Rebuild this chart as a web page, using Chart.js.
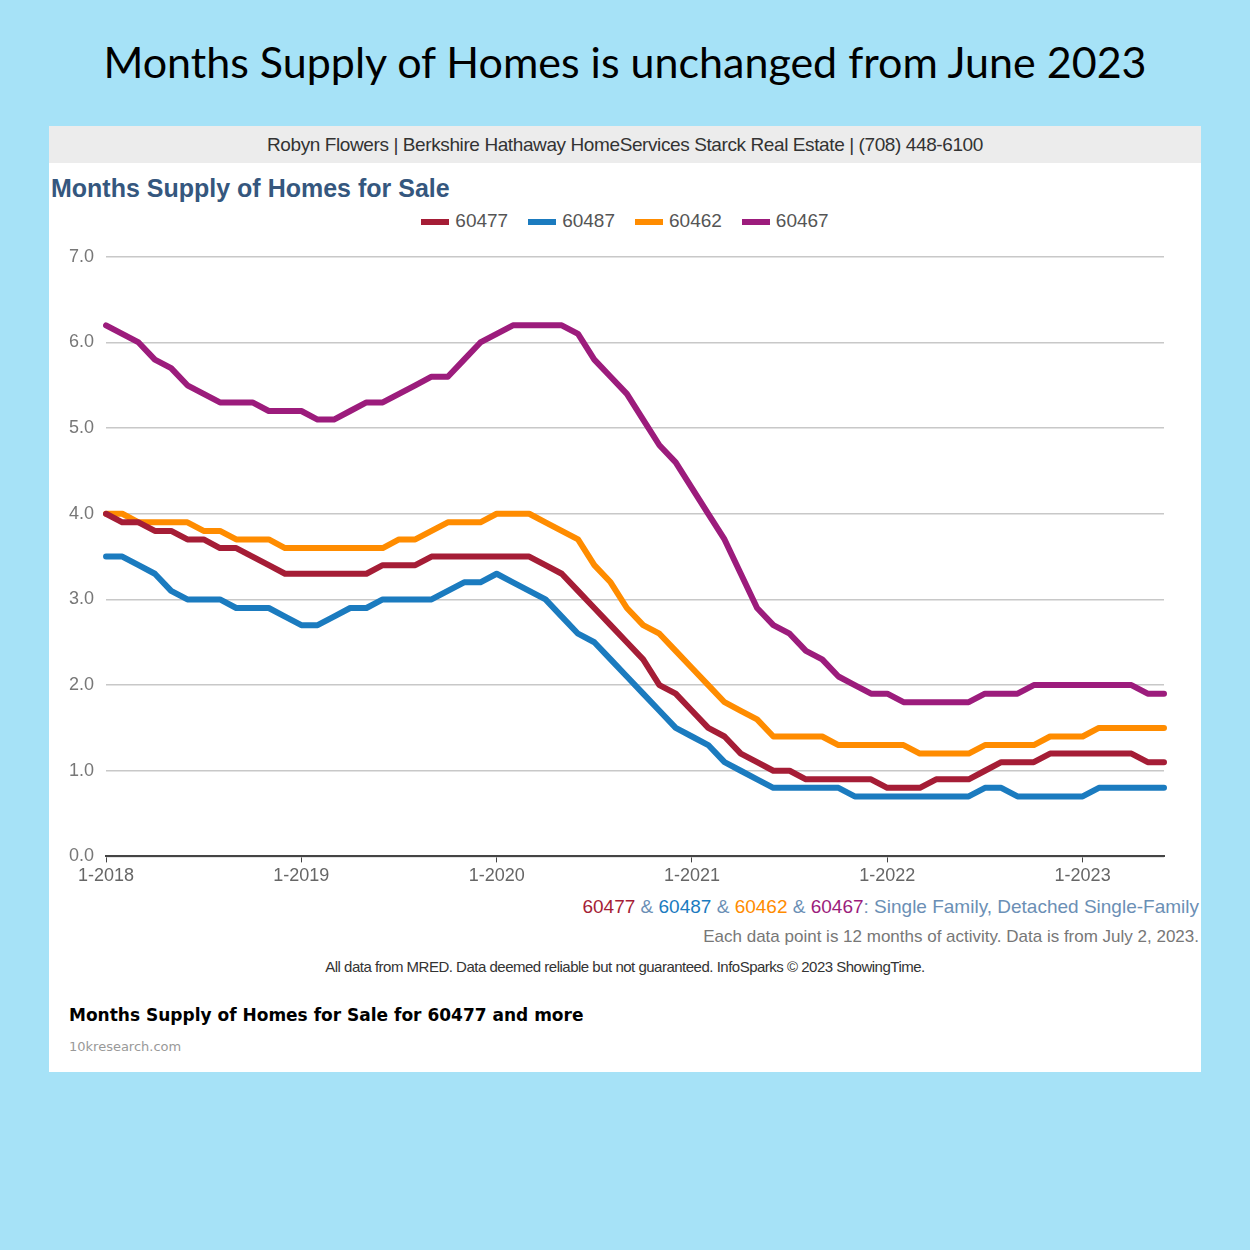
<!DOCTYPE html>
<html><head><meta charset="utf-8">
<script src="https://cdn.jsdelivr.net/npm/chart.js@4"></script>
<style>
body{margin:0;width:1250px;height:1250px;background:#a6e2f7;position:relative;font-family:"Liberation Sans",Arial,sans-serif;overflow:hidden}
#title{position:absolute;top:36px;left:0;width:1250px;text-align:center;font-family:"Lato",sans-serif;font-size:43px;color:#000}
#card{position:absolute;left:49px;top:126px;width:1152px;height:946px;background:#fff}
#hdr{height:37px;background:#ececec;text-align:center;font-size:19px;line-height:38px;color:#333;letter-spacing:-0.4px}
#sub{position:absolute;left:2px;top:48px;font-size:25px;font-weight:bold;color:#35577e}
#leg{position:absolute;top:84px;left:0;width:1152px;text-align:center;font-size:19px;color:#555}
#leg span{margin:0 10px}#leg i{display:inline-block;width:28px;height:6px;vertical-align:middle;margin-right:6px}
#wrap{position:absolute;left:0;top:108px;width:1118px;height:656px}
.r{position:absolute;right:2px;font-size:19px}
#src{position:absolute;top:832px;left:0;width:1152px;text-align:center;font-size:15px;color:#333;letter-spacing:-0.5px}
#cap{position:absolute;left:20px;top:879px;font-family:"DejaVu Sans";font-weight:bold;font-size:17px}
#site{position:absolute;left:20px;top:913px;font-family:"DejaVu Sans";font-size:13px;color:#999}
</style></head><body>
<div id="title">Months Supply of Homes is unchanged from June 2023</div>
<div id="card">
<div id="hdr">Robyn Flowers | Berkshire Hathaway HomeServices Starck Real Estate | (708) 448-6100</div>
<div id="sub">Months Supply of Homes for Sale</div>
<div id="leg"></div>
<div id="wrap"><canvas id="c"></canvas></div>
<div class="r" style="top:770px;color:#6b8fb5"><span style="color:#a51d36">60477</span> &amp; <span style="color:#1b7bbf">60487</span> &amp; <span style="color:#ff8c00">60462</span> &amp; <span style="color:#9c1c7c">60467</span>: Single Family, Detached Single-Family</div>
<div class="r" style="top:801px;font-size:17px;color:#777">Each data point is 12 months of activity. Data is from July 2, 2023.</div>
<div id="src">All data from MRED. Data deemed reliable but not guaranteed. InfoSparks © 2023 ShowingTime.</div>
<div id="cap">Months Supply of Homes for Sale for 60477 and more</div>
<div id="site">10kresearch.com</div>
</div>
<script>
const seriesNames = ["60477", "60487", "60462", "60467"];
const seriesColors = ["#a51d36", "#1b7bbf", "#ff8c00", "#9c1c7c"];
const v60477 = [4.0,3.9,3.9,3.8,3.8,3.7,3.7,3.6,3.6,3.5,3.4,3.3, 3.3,3.3,3.3,3.3,3.3,3.4,3.4,3.4,3.5,3.5,3.5,3.5, 3.5,3.5,3.5,3.4,3.3,3.1,2.9,2.7,2.5,2.3,2.0,1.9, 1.7,1.5,1.4,1.2,1.1,1.0,1.0,0.9,0.9,0.9,0.9,0.9, 0.8,0.8,0.8,0.9,0.9,0.9,1.0,1.1,1.1,1.1,1.2,1.2, 1.2,1.2,1.2,1.2,1.1,1.1];
const v60487 = [3.5,3.5,3.4,3.3,3.1,3.0,3.0,3.0,2.9,2.9,2.9,2.8, 2.7,2.7,2.8,2.9,2.9,3.0,3.0,3.0,3.0,3.1,3.2,3.2, 3.3,3.2,3.1,3.0,2.8,2.6,2.5,2.3,2.1,1.9,1.7,1.5, 1.4,1.3,1.1,1.0,0.9,0.8,0.8,0.8,0.8,0.8,0.7,0.7, 0.7,0.7,0.7,0.7,0.7,0.7,0.8,0.8,0.7,0.7,0.7,0.7, 0.7,0.8,0.8,0.8,0.8,0.8];
const v60462 = [4.0,4.0,3.9,3.9,3.9,3.9,3.8,3.8,3.7,3.7,3.7,3.6, 3.6,3.6,3.6,3.6,3.6,3.6,3.7,3.7,3.8,3.9,3.9,3.9, 4.0,4.0,4.0,3.9,3.8,3.7,3.4,3.2,2.9,2.7,2.6,2.4, 2.2,2.0,1.8,1.7,1.6,1.4,1.4,1.4,1.4,1.3,1.3,1.3, 1.3,1.3,1.2,1.2,1.2,1.2,1.3,1.3,1.3,1.3,1.4,1.4, 1.4,1.5,1.5,1.5,1.5,1.5];
const v60467 = [6.2,6.1,6.0,5.8,5.7,5.5,5.4,5.3,5.3,5.3,5.2,5.2, 5.2,5.1,5.1,5.2,5.3,5.3,5.4,5.5,5.6,5.6,5.8,6.0, 6.1,6.2,6.2,6.2,6.2,6.1,5.8,5.6,5.4,5.1,4.8,4.6, 4.3,4.0,3.7,3.3,2.9,2.7,2.6,2.4,2.3,2.1,2.0,1.9, 1.9,1.8,1.8,1.8,1.8,1.8,1.9,1.9,1.9,2.0,2.0,2.0, 2.0,2.0,2.0,2.0,1.9,1.9];
const months = [];
for (let y = 2018; y <= 2023; y++) for (let m = 1; m <= 12; m++) if (months.length < 66) months.push(m + "-" + y);

document.getElementById("leg").innerHTML = seriesNames.map((n, i) =>
  `<span><i style="background:${seriesColors[i]}"></i>${n}</span>`).join("");

const all = [v60477, v60487, v60462, v60467];
new Chart(document.getElementById("c"), {
  type: "line",
  data: { labels: months, datasets: all.map((d, i) => ({
    label: seriesNames[i], data: d, borderColor: seriesColors[i], borderWidth: 6,
    pointRadius: 0, tension: 0, borderJoinStyle: "round", borderCapStyle: "round" })) },
  options: {
    responsive: true, maintainAspectRatio: false, animation: false,
    layout: { padding: { top: 13, right: 0, left: 8 } },
    plugins: { legend: { display: false }, tooltip: { enabled: false } },
    scales: {
      x: { offset: false,
        grid: { drawOnChartArea: false, tickLength: 6, color: c => months[c.index] && months[c.index].startsWith("1-") ? "#444" : "rgba(0,0,0,0)" },
        border: { color: "#444", width: 2 },
        ticks: { autoSkip: false, maxRotation: 0, color: "#666", font: { size: 18 },
          callback: (v, i) => months[i].startsWith("1-") ? months[i] : "" } },
      y: { min: 0, max: 7, ticks: { stepSize: 1, color: "#777", font: { size: 18 }, padding: 12, callback: v => v.toFixed(1) },
        grid: { color: "#c8c8c8", lineWidth: 1.5, tickLength: 0 }, border: { display: false } }
    }
  }
});
</script>
</body></html>
